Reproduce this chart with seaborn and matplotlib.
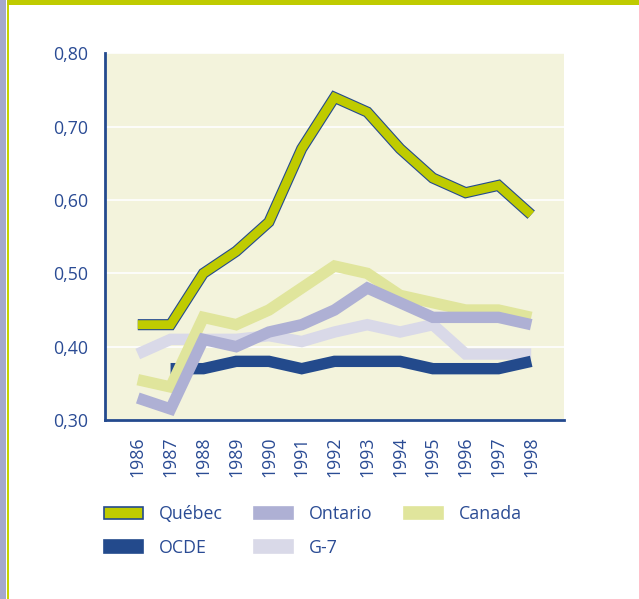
import numpy as np
import pandas as pd
import matplotlib
matplotlib.use("Agg")
import matplotlib.pyplot as plt
import matplotlib.patheffects as pe
from matplotlib.patches import Patch, Rectangle
from matplotlib.ticker import FuncFormatter
import seaborn as sns

# ---- data ----
years = list(range(1986, 1999))
quebec = [0.43, 0.43, 0.50, 0.53, 0.57, 0.67, 0.74, 0.72, 0.67, 0.63, 0.61, 0.62, 0.58]
ontario = [0.33, 0.315, 0.41, 0.40, 0.42, 0.43, 0.45, 0.48, 0.46, 0.44, 0.44, 0.44, 0.43]
canada = [0.355, 0.345, 0.44, 0.43, 0.45, 0.48, 0.51, 0.50, 0.47, 0.46, 0.45, 0.45, 0.44]
ocde = [np.nan, 0.37, 0.37, 0.38, 0.38, 0.37, 0.38, 0.38, 0.38, 0.37, 0.37, 0.37, 0.38]
g7 = [0.39, 0.41, 0.41, 0.41, 0.415, 0.407, 0.42, 0.43, 0.42, 0.43, 0.39, 0.39, 0.39]
y_ticks = [0.30, 0.40, 0.50, 0.60, 0.70, 0.80]

# ---- style ----
TXT = "#2a4b94"
AXC = "#244a8e"
col = {"Québec": "#bfcb00", "Ontario": "#aeb0d4", "Canada": "#e0e59c",
       "OCDE": "#234a8c", "G-7": "#d9d9e8"}

sns.set_style("white")
plt.rcParams["font.family"] = ["Open Sans", "DejaVu Sans"]
plt.rcParams["font.weight"] = "medium"

fig = plt.figure(figsize=(6.39, 5.99), dpi=100)
ax = fig.add_axes([105 / 639, 1 - 420 / 599, 459 / 639, (420 - 53.4) / 599])
ax.set_facecolor("#f3f3dc")

# draw order: back to front
series = [("G-7", g7), ("OCDE", ocde), ("Canada", canada), ("Ontario", ontario)]
for name, vals in series:
    sns.lineplot(x=years, y=vals, ax=ax, color=col[name], linewidth=8.2,
                 estimator=None, solid_capstyle="butt", solid_joinstyle="miter",
                 zorder=3)

sns.lineplot(x=years, y=quebec, ax=ax, color=col["Québec"], linewidth=6.4,
             estimator=None, solid_capstyle="butt", solid_joinstyle="miter", zorder=4,
             path_effects=[pe.Stroke(linewidth=8.0, foreground=AXC), pe.Normal()])

ax.set_xlim(1985, 1999)
ax.set_ylim(0.30, 0.80)
ax.set_xticks(years)
ax.set_xticklabels([str(y) for y in years], rotation=90)
ax.set_yticks(y_ticks)
ax.yaxis.set_major_formatter(FuncFormatter(lambda v, p: f"{v:.2f}".replace(".", ",")))
ax.tick_params(axis="both", length=0, labelsize=12.8, labelcolor=TXT)
ax.tick_params(axis="y", pad=12)
ax.tick_params(axis="x", pad=12)
ax.set_xlabel("")
ax.set_ylabel("")

ax.grid(axis="y", color="white", linewidth=1.2)
ax.grid(axis="x", visible=False)
ax.set_axisbelow(True)
for s in ["top", "right"]:
    ax.spines[s].set_visible(False)
for s in ["left", "bottom"]:
    ax.spines[s].set_color(AXC)
    ax.spines[s].set_linewidth(2)

# ---- legend ----
order = ["Québec", "OCDE", "Ontario", "G-7", "Canada"]
handles = []
for name in order:
    edge = AXC if name == "Québec" else col[name]
    handles.append(Patch(facecolor=col[name], edgecolor=edge, linewidth=1.2, label=name))
fig.legend(handles=handles, loc="upper left", bbox_to_anchor=(104 / 639, 1 - 505 / 599),
           ncol=3, frameon=False, fontsize=12.8, labelcolor=TXT,
           handlelength=2.2, handleheight=0.68, handletextpad=0.9,
           columnspacing=1.75, labelspacing=0.88, borderpad=0, borderaxespad=0)

# ---- page decorations ----
fig.patches.append(Rectangle((0, 0), 6 / 639, 1, transform=fig.transFigure,
                             facecolor="#a5a8cc", edgecolor="none"))
fig.patches.append(Rectangle((7 / 639, 0), 2 / 639, 1, transform=fig.transFigure,
                             facecolor="#c8d400", edgecolor="none"))
fig.patches.append(Rectangle((7 / 639, 1 - 5 / 599), 1, 5 / 599, transform=fig.transFigure,
                             facecolor="#bfcb00", edgecolor="none"))

plt.savefig("out.png", dpi=100)
plt.close()
